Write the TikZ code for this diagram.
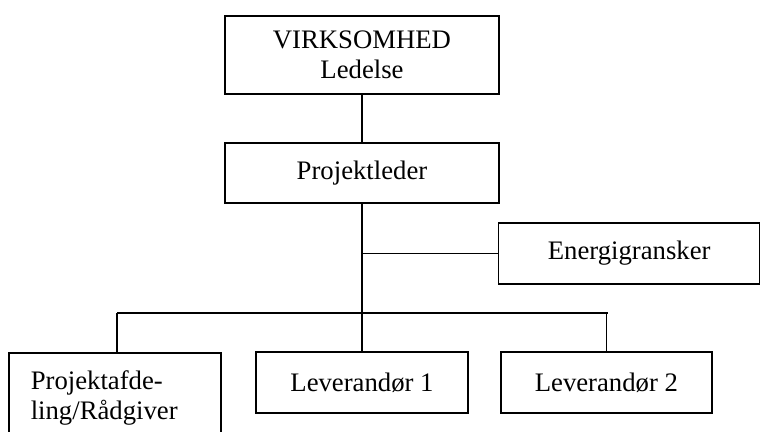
\documentclass[tikz,border=0pt]{standalone}
\usepackage{fontspec}
\setmainfont{Liberation Serif}
\usepackage{tikz}
\tikzset{box/.style={draw, line width=1.1pt, inner sep=0pt, font=\fontsize{19}{21.5}\selectfont},
 link/.style={line width=1.1pt},
 }

\begin{document}
\begin{tikzpicture}
        \useasboundingbox (0,0) rectangle (19.025,10.8);
        \clip (0,0) rectangle (19.025,10.8);
        \node[box, minimum width=6.85cm, minimum height=1.95cm, align=center] (ledelse) at (9.05, 9.425) {VIRKSOMHED\\Ledelse};
        \node[box, minimum width=6.85cm, minimum height=1.5cm] (leder) at (9.05, 6.475) {Projektleder};
        \node[box, minimum width=6.525cm, minimum height=1.525cm] (energi) at (15.73, 4.46) {Energigransker};
        \node[box, anchor=north west, align=left, inner xsep=0.55cm, inner ysep=0.45cm, text width=4.2cm] (raadgiver) at (0.2, 2.0) {Projektafde-\\ling/Rådgiver};
        \node[box, minimum width=5.3cm, minimum height=1.525cm] (lev1) at (9.05, 1.2375) {Leverandør 1};
        \node[box, minimum width=5.275cm, minimum height=1.525cm] (lev2) at (15.16, 1.2375) {Leverandør 2};
        \coordinate (barL) at (2.925, 2.975);
        \coordinate (barR) at (15.2, 2.975);
        \draw[link] (ledelse) -- (leder);
        \draw[link] (leder.south) -- (lev1.north);
        \draw[link] (energi.west) -- (energi.west -| leder.south);
        \draw[link] (barL) -- (barR);
        \draw[link] (barL) -- (barL |- raadgiver.north);
        \draw[link] (lev2.north) -- (lev2.north |- barR);
    \end{tikzpicture}
\end{document}
